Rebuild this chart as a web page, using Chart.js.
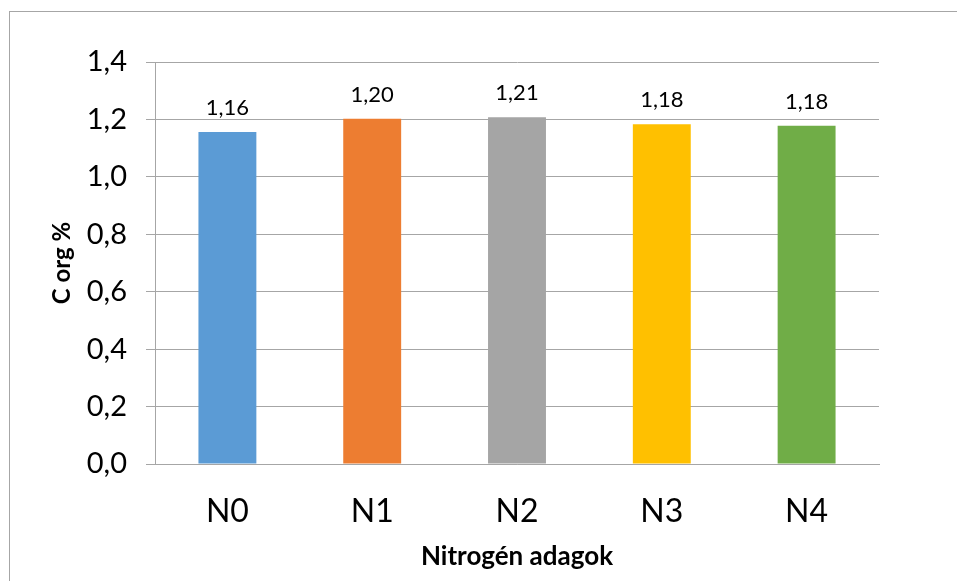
<!DOCTYPE html>
<html>
<head>
<meta charset="utf-8">
<script src="https://cdn.jsdelivr.net/npm/chart.js@4"></script>
<style>
    html, body { margin: 0; padding: 0; background: #ffffff; overflow: hidden; }
    #wrap { position: relative; width: 957px; height: 581px; }
    #frame { position: absolute; left: 9px; top: 11px; width: 1000px; height: 700px; border: 1px solid #a6a6a6; }
    #chart { position: absolute; left: 0; top: 0; }
</style>
</head>
<body>
<div id="wrap">
    <div id="frame"></div>
    <canvas id="chart" width="957" height="581"></canvas>
</div>
<script>
const categories = ['N0', 'N1', 'N2', 'N3', 'N4'];
const cOrgValues = [1.156, 1.202, 1.208, 1.183, 1.178];
const barColors = ['#5b9bd5', '#ed7d31', '#a5a5a5', '#ffc000', '#70ad47'];
const yTickLabels = ['0,0', '0,2', '0,4', '0,6', '0,8', '1,0', '1,2', '1,4'];

const GRID = '#a6a6a6';
const FONT = "Lato, 'Liberation Sans', sans-serif";

// value labels above each bar, placed from the bar elements
const barLabels = {
    id: 'barLabels',
    afterDatasetsDraw(chart) {
        const ctx = chart.ctx;
        const meta = chart.getDatasetMeta(0);
        ctx.save();
        ctx.font = '22px ' + FONT;
        ctx.fillStyle = '#000000';
        ctx.textAlign = 'center';
        ctx.textBaseline = 'alphabetic';
        meta.data.forEach((bar, i) => {
            const txt = cOrgValues[i].toFixed(2).replace('.', ',');
            ctx.fillText(txt, bar.x, bar.y - 17);
        });
        ctx.restore();
    }
};

new Chart(document.getElementById('chart'), {
    type: 'bar',
    data: {
        labels: categories,
        datasets: [{
            data: cOrgValues,
            backgroundColor: barColors,
            borderWidth: 0,
            barPercentage: 0.4,
            categoryPercentage: 1
        }]
    },
    options: {
        responsive: false,
        animation: false,
        layout: { padding: { left: 20, right: 78, top: 62, bottom: 0 } },
        plugins: {
            legend: { display: false },
            tooltip: { enabled: false }
        },
        scales: {
            x: {
                grid: { display: false, drawTicks: false },
                border: { display: true, color: GRID, width: 1 },
                ticks: {
                    color: '#000000',
                    font: { family: FONT, size: 32 },
                    padding: 28
                },
                title: {
                    display: true,
                    text: 'Nitrogén adagok',
                    color: '#000000',
                    font: { family: FONT, size: 26, weight: 'bold' },
                    padding: { top: 0, bottom: 9 }
                },
                afterFit(scale) { scale.height = 117; }
            },
            y: {
                min: 0,
                max: 1.4,
                ticks: {
                    stepSize: 0.2,
                    color: '#000000',
                    font: { family: FONT, size: 29 },
                    padding: 19,
                    callback: (v, i) => yTickLabels[i]
                },
                grid: { color: GRID, lineWidth: 1, tickLength: 9 },
                border: { display: true, color: GRID, width: 1 },
                title: {
                    display: true,
                    text: 'C org %',
                    color: '#000000',
                    font: { family: FONT, size: 24, weight: 'bold' },
                    padding: { top: 28, bottom: 0 }
                },
                afterFit(scale) { scale.width = 135; }
            }
        }
    },
    plugins: [barLabels]
});
</script>
</body>
</html>
